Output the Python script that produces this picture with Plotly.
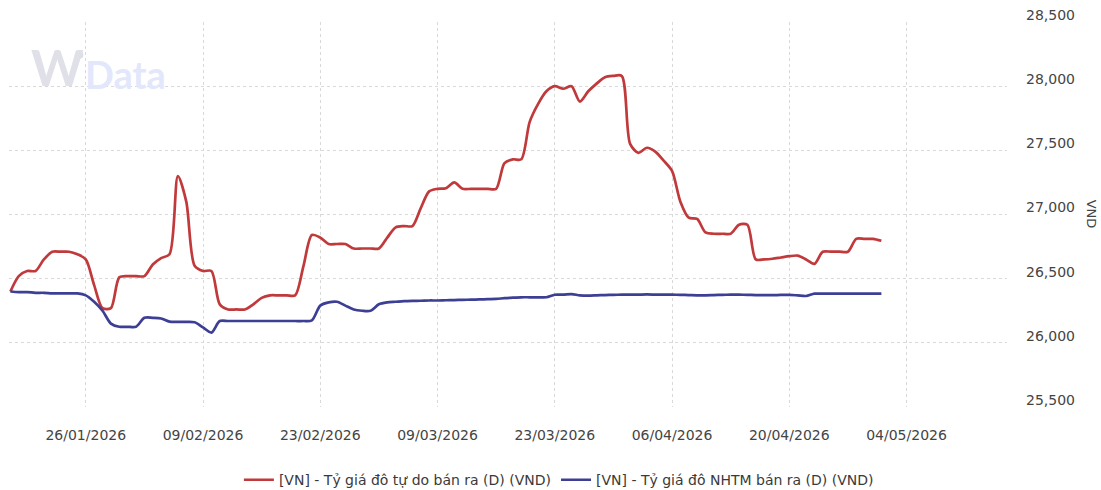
import pandas as pd
import plotly.graph_objects as go

start_date = "2026-01-17"

free_rate = [
    26400, 26520, 26560, 26560, 26650, 26710, 26710, 26710, 26690, 26650,
    26450, 26270, 26270, 26510, 26520, 26520, 26520, 26610, 26660, 26690,
    27300, 27100, 26600, 26560, 26560, 26300, 26260, 26260, 26260, 26300,
    26350, 26370, 26370, 26370, 26370, 26600, 26840, 26820, 26770, 26770,
    26770, 26735, 26735, 26735, 26735, 26820, 26900, 26910, 26910, 27050,
    27180, 27200, 27205, 27250, 27200, 27200, 27200, 27200, 27200, 27400,
    27430, 27430, 27720, 27860, 27960, 28000, 27980, 28000, 27880, 27960,
    28020, 28070, 28080, 28080, 27550, 27480, 27520, 27490, 27420, 27340,
    27100, 26975, 26965, 26860, 26850, 26850, 26850, 26920, 26920, 26650,
    26650, 26655, 26665, 26675, 26680, 26650, 26615, 26710, 26710, 26710,
    26710, 26810, 26810, 26810, 26795,
]

bank_rate = [
    26400, 26395, 26395, 26390, 26390, 26385, 26385, 26385, 26385, 26370,
    26320, 26250, 26150, 26125, 26125, 26125, 26195, 26195, 26190, 26165,
    26163, 26163, 26160, 26120, 26080, 26170, 26170, 26170, 26170, 26170,
    26170, 26170, 26170, 26170, 26170, 26170, 26175, 26290, 26315, 26320,
    26290, 26260, 26250, 26250, 26300, 26315, 26320, 26325, 26327, 26328,
    26330, 26330, 26332, 26333, 26335, 26336, 26338, 26340, 26342, 26348,
    26352, 26355, 26355, 26355, 26355, 26375, 26375, 26380, 26370, 26368,
    26370, 26372, 26374, 26375, 26375, 26376, 26377, 26376, 26375, 26375,
    26374, 26372, 26370, 26370, 26372, 26374, 26375, 26375, 26374, 26372,
    26372, 26372, 26373, 26374, 26370, 26365, 26383, 26383, 26383, 26383,
    26383, 26383, 26383, 26383, 26383,
]

tick_dates = ["2026-01-26", "2026-02-09", "2026-02-23", "2026-03-09",
              "2026-03-23", "2026-04-06", "2026-04-20", "2026-05-04"]
y_ticks = [25500, 26000, 26500, 27000, 27500, 28000, 28500]

name_free = "[VN] - Tỷ giá đô tự do bán ra (D) (VND)"
name_bank = "[VN] - Tỷ giá đô NHTM bán ra (D) (VND)"

dates = pd.date_range(start_date, periods=len(free_rate), freq="D")

RED = "#c0393b"
BLUE = "#3d3f95"
FONT = "DejaVu Sans"

fig = go.Figure()
fig.add_trace(go.Scatter(
    x=dates, y=free_rate, name=name_free, mode="lines",
    line=dict(color=RED, width=2.7, shape="spline", smoothing=0.8),
))
fig.add_trace(go.Scatter(
    x=dates, y=bank_rate, name=name_bank, mode="lines",
    line=dict(color=BLUE, width=2.7, shape="spline", smoothing=0.8),
))

fig.update_layout(
    width=1101, height=490,
    margin=dict(l=9, r=94, t=22, b=83, autoexpand=False),
    paper_bgcolor="white", plot_bgcolor="white",
    font=dict(family=FONT, size=14, color="#444444"),
    showlegend=True,
    legend=dict(orientation="h", x=0.551, xanchor="center", y=-0.19, yanchor="middle",
                font=dict(size=14, color="#3a3a3a"), itemwidth=30, tracegroupgap=0),
    xaxis=dict(
        type="date",
        range=["2026-01-16 20:00", "2026-05-16"],
        tickvals=tick_dates, tickformat="%d/%m/%Y",
        showgrid=True, gridcolor="#d9d9d9", griddash="dot", gridwidth=1,
        zeroline=False, showline=False, ticks="",
        tickfont=dict(size=14, color="#444444"),
        ticklabelstandoff=18,
    ),
    yaxis=dict(
        side="right",
        range=[25500, 28500],
        tickvals=y_ticks, tickformat=",d",
        showgrid=True, gridcolor="#d9d9d9", griddash="dot", gridwidth=1,
        zeroline=False, showline=False, ticks="",
        tickfont=dict(size=14, color="#444444"),
        ticklabelstandoff=18, ticklabelshift=-7,
    ),
    shapes=[
        dict(type="circle", xref="paper", yref="paper",
             x0=0.0675, x1=0.0745, y0=0.905, y1=0.925,
             fillcolor="#dcdde6", line=dict(width=0), layer="above"),
    ],
    annotations=[
        dict(text="VND", xref="paper", yref="paper", x=1.085, y=0.5,
             textangle=90, showarrow=False, xanchor="center", yanchor="middle",
             font=dict(size=13, color="#444444", family=FONT)),
        dict(text="<b>W</b>", xref="paper", yref="paper", x=0.020, y=0.80,
             showarrow=False, xanchor="left", yanchor="bottom",
             font=dict(size=50, color="#dfe0e8", family="Lato")),
        dict(text="<b>Data</b>", xref="paper", yref="paper", x=0.074, y=0.80,
             showarrow=False, xanchor="left", yanchor="bottom",
             font=dict(size=38, color="#e3e7fb", family="Lato")),
    ],
)

fig.write_html("out.html")
